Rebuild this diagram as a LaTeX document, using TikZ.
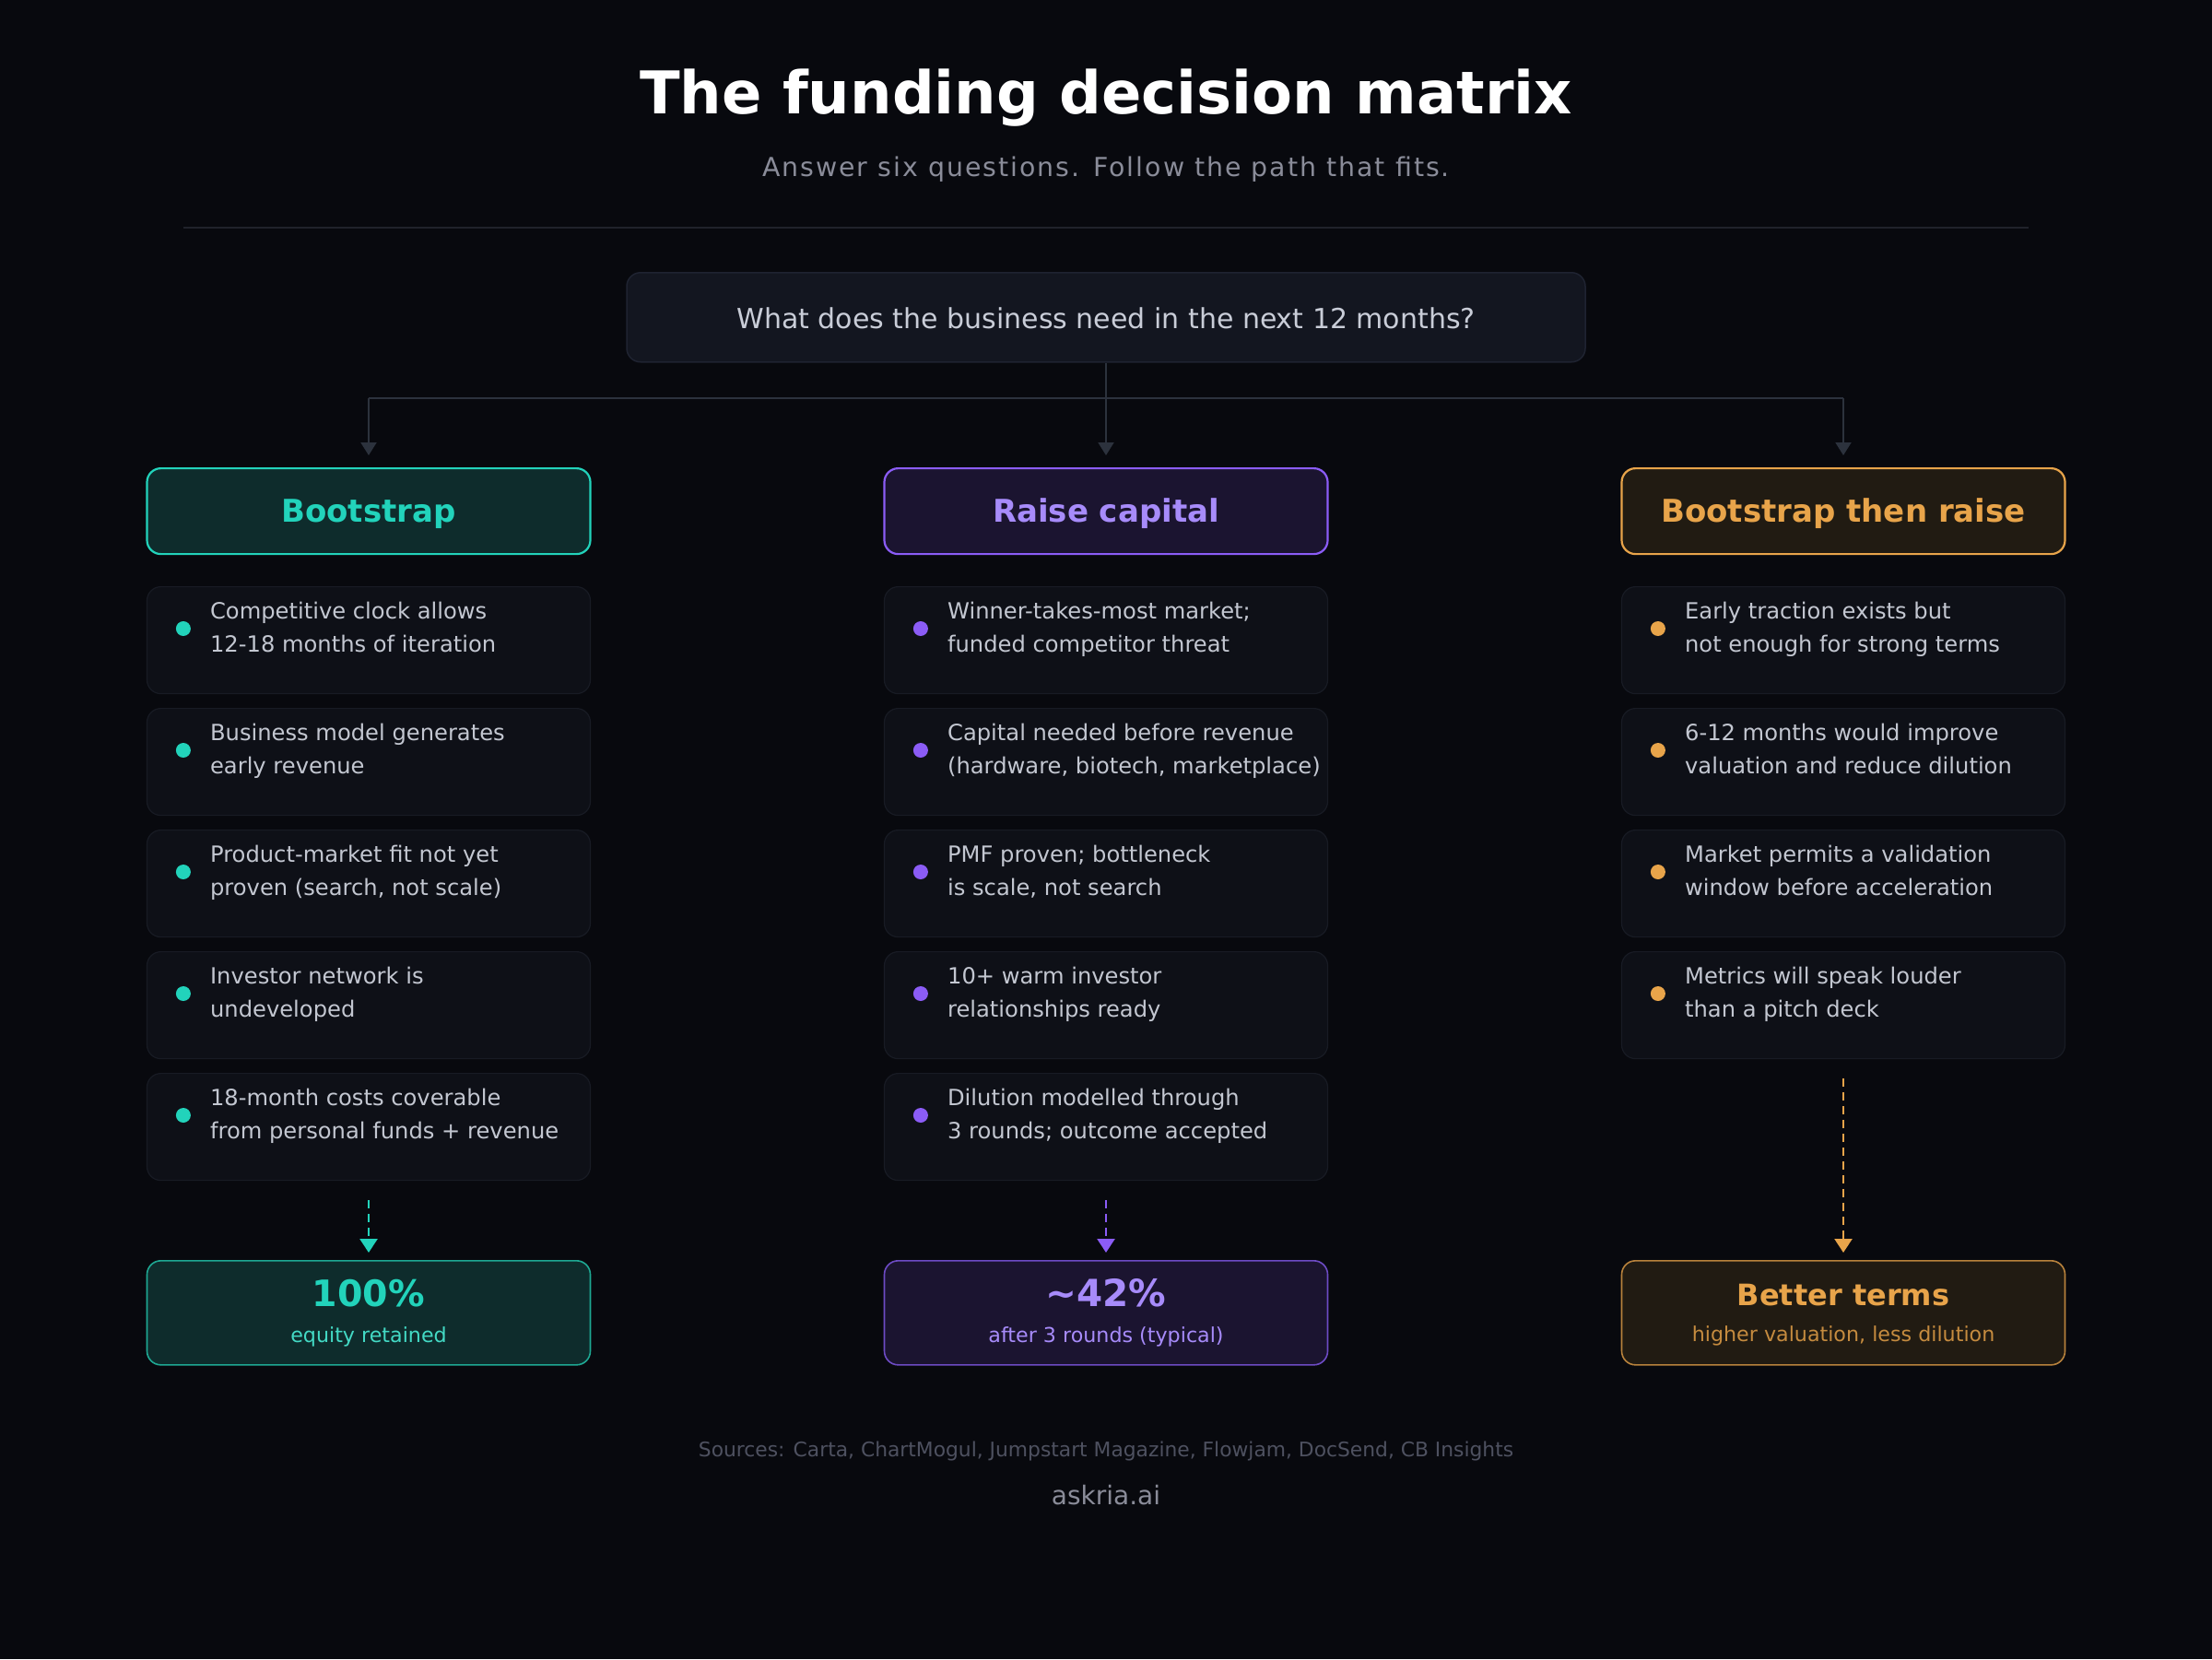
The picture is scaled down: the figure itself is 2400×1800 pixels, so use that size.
\documentclass[tikz,border=0pt]{standalone}
\usepackage{fontspec}
\setmainfont{DejaVu Sans}
\usetikzlibrary{arrows.meta,calc}
\definecolor{bg}{HTML}{08090E}
\definecolor{subt}{HTML}{8A8C99}
\definecolor{divc}{HTML}{20222B}
\definecolor{qfill}{HTML}{131620}
\definecolor{qdraw}{HTML}{1F2331}
\definecolor{qtext}{HTML}{C9CDD8}
\definecolor{conn}{HTML}{2C323D}
\definecolor{cfill}{HTML}{0E1017}
\definecolor{cdraw}{HTML}{181B24}
\definecolor{ctext}{HTML}{C3C7D1}
\definecolor{teal}{HTML}{22D3BB}
\definecolor{tealfill}{HTML}{0E2C2C}
\definecolor{tealdim}{HTML}{1EA893}
\definecolor{purp}{HTML}{8B5CF6}
\definecolor{purptext}{HTML}{A78BFA}
\definecolor{purpfill}{HTML}{1B1430}
\definecolor{purpdim}{HTML}{6D4BC4}
\definecolor{orng}{HTML}{E8A44A}
\definecolor{orngfill}{HTML}{211B12}
\definecolor{orngdim}{HTML}{B8823C}
\definecolor{srcc}{HTML}{4E5160}
\tikzset{
  box/.style={rounded corners=15pt, minimum width=481pt, inner sep=0pt, anchor=north},
  cardbox/.style={box, fill=cfill, draw=cdraw, line width=1.2pt, minimum height=116pt},
  headbox/.style={box, line width=2.2pt, minimum height=93pt},
  resbox/.style={box, line width=1.6pt, minimum height=113pt},
  cardtext/.style={text=ctext, inner sep=0pt, anchor=base west, font=\fontsize{24.2}{30}\selectfont},
  headtext/.style={inner sep=0pt, anchor=base, font=\fontsize{34}{40}\selectfont\bfseries},
  restext/.style={inner sep=0pt, anchor=base, font=\fontsize{22.2}{26}\selectfont},
  conn/.style={draw=conn, line width=2pt},
  connarrow/.style={conn, -{Triangle[width=17pt,length=14pt]}, shorten >=13pt},
  dasharrow/.style={line width=2.4pt, dash pattern=on 9pt off 6pt, -{Triangle[width=19pt,length=15pt]}, shorten <=21pt, shorten >=8pt},
}
\newcommand\card[6]{%
  \node[cardbox] (#1) at (#2,#3) {};
  \fill[#4] ($(#1.north west)+(40,46)$) circle (8pt);
  \node[cardtext] (#1a) at ($(#1.north west)+(69,35.5)$) {#5};
  \node[cardtext] (#1b) at ($(#1.north west)+(69,71.5)$) {#6};
}
\begin{document}
\begin{tikzpicture}[x=1pt,y=-1pt]
\fill[bg] (0,0) rectangle (2400,1800);
\useasboundingbox (0,0) rectangle (2400,1800);

% title
\node[text=white, inner sep=0pt, anchor=base, font=\fontsize{64}{70}\selectfont\bfseries] (title) at (1200,123) {The funding decision matrix};
\node[text=subt, inner sep=0pt, anchor=base, font=\fontsize{28.4}{34}\selectfont\addfontfeature{LetterSpace=7}] (subtitle) at (1200,191) {Answer six questions. Follow the path that fits.};
\draw[divc, line width=2pt] (199,247) -- (2201,247);

% question
\node[box, fill=qfill, draw=qdraw, line width=1.5pt, minimum width=1040pt, minimum height=97pt] (q) at (1200,295) {};
\node[text=qtext, inner sep=0pt, anchor=base, font=\fontsize{30}{36}\selectfont] (qt) at (1200,356) {What does the business need in the next 12 months?};

% headers
\node[headbox, fill=tealfill, draw=teal] (h1) at (400,507) {};
\node[headbox, fill=purpfill, draw=purp] (h2) at (1200,507) {};
\node[headbox, fill=orngfill, draw=orng] (h3) at (2000,507) {};
\node[headtext, text=teal] (h1t) at (400,566) {Bootstrap};
\node[headtext, text=purptext] (h2t) at (1200,566) {Raise capital};
\node[headtext, text=orng] (h3t) at (2000,566) {Bootstrap then raise};

% connectors
\coordinate (jL) at (400,432);
\coordinate (jR) at (2000,432);
\draw[conn] (jL) -- (jR);
\draw[connarrow] (q.south) -- (h2.north);
\draw[connarrow] (jL) -- (h1.north);
\draw[connarrow] (jR) -- (h3.north);

% column 1
\card{a1}{400}{636}{teal}{Competitive clock allows}{12-18 months of iteration}
\card{a2}{400}{768}{teal}{Business model generates}{early revenue}
\card{a3}{400}{900}{teal}{Product-market fit not yet}{proven (search, not scale)}
\card{a4}{400}{1032}{teal}{Investor network is}{undeveloped}
\card{a5}{400}{1164}{teal}{18-month costs coverable}{from personal funds + revenue}

% column 2
\card{b1}{1200}{636}{purp}{Winner-takes-most market;}{funded competitor threat}
\card{b2}{1200}{768}{purp}{Capital needed before revenue}{(hardware, biotech, marketplace)}
\card{b3}{1200}{900}{purp}{PMF proven; bottleneck}{is scale, not search}
\card{b4}{1200}{1032}{purp}{10+ warm investor}{relationships ready}
\card{b5}{1200}{1164}{purp}{Dilution modelled through}{3 rounds; outcome accepted}

% column 3
\card{c1}{2000}{636}{orng}{Early traction exists but}{not enough for strong terms}
\card{c2}{2000}{768}{orng}{6-12 months would improve}{valuation and reduce dilution}
\card{c3}{2000}{900}{orng}{Market permits a validation}{window before acceleration}
\card{c4}{2000}{1032}{orng}{Metrics will speak louder}{than a pitch deck}

% results
\node[resbox, fill=tealfill, draw=tealdim] (r1) at (400,1367) {};
\node[resbox, fill=purpfill, draw=purpdim] (r2) at (1200,1367) {};
\node[resbox, fill=orngfill, draw=orngdim] (r3) at (2000,1367) {};
\node[text=teal, inner sep=0pt, anchor=base, font=\fontsize{39.5}{44}\selectfont\bfseries] (r1a) at (400,1417) {100\%};
\node[restext, text=teal!85!white] (r1b) at (400,1456) {equity retained};
\node[text=purptext, inner sep=0pt, anchor=base, font=\fontsize{40.5}{44}\selectfont\bfseries] (r2a) at (1200,1417) {\textasciitilde 42\%};
\node[restext, text=purptext] (r2b) at (1200,1456) {after 3 rounds (typical)};
\node[text=orng, inner sep=0pt, anchor=base, font=\fontsize{32}{38}\selectfont\bfseries] (r3a) at (2000,1416) {Better terms};
\node[restext, text=orng!85!black] (r3b) at (2000,1455) {higher valuation, less dilution};

% dashed arrows
\draw[dasharrow, teal] (a5.south) -- (r1.north);
\draw[dasharrow, purp] (b5.south) -- (r2.north);
\draw[dasharrow, orng] (c4.south) -- (r3.north);

% footer
\node[text=srcc, inner sep=0pt, anchor=base, font=\fontsize{21.8}{26}\selectfont] (src) at (1200,1580) {Sources: Carta, ChartMogul, Jumpstart Magazine, Flowjam, DocSend, CB Insights};
\node[text=subt, inner sep=0pt, anchor=base, font=\fontsize{28}{32}\selectfont] (brand) at (1200,1632) {askria.ai};
\end{tikzpicture}
\end{document}
